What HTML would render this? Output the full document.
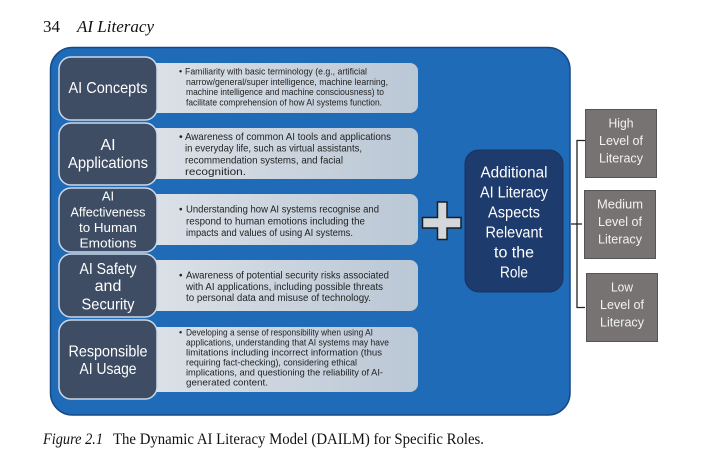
<!DOCTYPE html>
<html><head><meta charset="utf-8"><style>
html,body{margin:0;padding:0;background:#fff;}
svg{display:block;}
</style></head><body>
<svg width="720" height="462" viewBox="0 0 720 462" xmlns="http://www.w3.org/2000/svg">
<defs>
<linearGradient id="lg" x1="0" y1="0" x2="1" y2="0">
<stop offset="0" stop-color="#dde2e8"/>
<stop offset="1" stop-color="#bac7d5"/>
</linearGradient>
</defs>
<!-- header -->
<text x="43" y="32" font-family="Liberation Serif, serif" font-size="17" fill="#111">34</text>
<text x="77" y="32" font-family="Liberation Serif, serif" font-size="17" font-style="italic" fill="#111" textLength="77" lengthAdjust="spacingAndGlyphs">AI Literacy</text>

<!-- outer box -->
<rect x="50.5" y="47.5" width="519.5" height="367.5" rx="22" fill="#1f6bb8" stroke="#164a85" stroke-width="1.5"/>

<!-- light boxes -->
<g fill="url(#lg)">
<rect x="140" y="63" width="278" height="50" rx="8"/>
<rect x="140" y="128" width="278" height="51" rx="8"/>
<rect x="140" y="194" width="278" height="51" rx="8"/>
<rect x="140" y="260" width="278" height="51" rx="8"/>
<rect x="140" y="327" width="278" height="65" rx="8"/>
</g>

<!-- dark boxes -->
<g fill="#3e4d64" stroke="#cbd8e8" stroke-width="1.5">
<rect x="59" y="57" width="98" height="63" rx="12"/>
<rect x="59" y="123" width="98" height="62" rx="12"/>
<rect x="59" y="188" width="98" height="64" rx="12"/>
<rect x="59" y="254" width="98" height="63" rx="12"/>
<rect x="59" y="320" width="98" height="79" rx="12"/>
</g>

<g font-family="Liberation Sans, sans-serif" fill="#fff" text-anchor="middle">
<text x="108" y="93" font-size="16" textLength="79" lengthAdjust="spacingAndGlyphs">AI Concepts</text>
<text x="108" y="150" font-size="16">AI</text>
<text x="108" y="168" font-size="16" textLength="80" lengthAdjust="spacingAndGlyphs">Applications</text>
<text x="108" y="200.5" font-size="13">AI</text>
<text x="108" y="216.5" font-size="13" textLength="75" lengthAdjust="spacingAndGlyphs">Affectiveness</text>
<text x="108" y="232" font-size="13" textLength="58" lengthAdjust="spacingAndGlyphs">to Human</text>
<text x="108" y="247.3" font-size="13" textLength="57" lengthAdjust="spacingAndGlyphs">Emotions</text>
<text x="108" y="274" font-size="16" textLength="57" lengthAdjust="spacingAndGlyphs">AI Safety</text>
<text x="108" y="291" font-size="16">and</text>
<text x="108" y="309.3" font-size="16" textLength="53" lengthAdjust="spacingAndGlyphs">Security</text>
<text x="108" y="356.7" font-size="16" textLength="79" lengthAdjust="spacingAndGlyphs">Responsible</text>
<text x="108" y="374" font-size="16" textLength="57" lengthAdjust="spacingAndGlyphs">AI Usage</text>
</g>

<!-- description text -->
<g font-family="Liberation Sans, sans-serif" fill="#222" lengthAdjust="spacingAndGlyphs">
<g font-size="9">
<text x="179" y="74.5">•</text>
<text x="185" y="74.5" textLength="182" lengthAdjust="spacingAndGlyphs">Familiarity with basic terminology (e.g., artificial</text>
<text x="186" y="84.8" textLength="202" lengthAdjust="spacingAndGlyphs">narrow/general/super intelligence, machine learning,</text>
<text x="186" y="95.1" textLength="198" lengthAdjust="spacingAndGlyphs">machine intelligence and machine consciousness) to</text>
<text x="186" y="105.4" textLength="196" lengthAdjust="spacingAndGlyphs">facilitate comprehension of how AI systems function.</text>
</g>
<g font-size="10.5">
<text x="179" y="140">•</text>
<text x="185" y="140" textLength="206" lengthAdjust="spacingAndGlyphs">Awareness of common AI tools and applications</text>
<text x="185" y="151.7" textLength="177" lengthAdjust="spacingAndGlyphs">in everyday life, such as virtual assistants,</text>
<text x="185" y="163.4" textLength="158" lengthAdjust="spacingAndGlyphs">recommendation systems, and facial</text>
<text x="185" y="175" textLength="61" lengthAdjust="spacingAndGlyphs">recognition.</text>
</g>
<g font-size="10">
<text x="179" y="212.5">•</text>
<text x="186" y="212.5" textLength="193" lengthAdjust="spacingAndGlyphs">Understanding how AI systems recognise and</text>
<text x="186" y="224.3" textLength="179" lengthAdjust="spacingAndGlyphs">respond to human emotions including the</text>
<text x="186" y="236" textLength="167" lengthAdjust="spacingAndGlyphs">impacts and values of using AI systems.</text>
<text x="179" y="278.5">•</text>
<text x="186" y="278.5" textLength="203" lengthAdjust="spacingAndGlyphs">Awareness of potential security risks associated</text>
<text x="186" y="289.8" textLength="197" lengthAdjust="spacingAndGlyphs">with AI applications, including possible threats</text>
<text x="186" y="301" textLength="185" lengthAdjust="spacingAndGlyphs">to personal data and misuse of technology.</text>
</g>
<g font-size="9">
<text x="179" y="335.5">•</text>
<text x="186" y="335.5" textLength="187" lengthAdjust="spacingAndGlyphs">Developing a sense of responsibility when using AI</text>
<text x="186" y="345.5" textLength="203" lengthAdjust="spacingAndGlyphs">applications, understanding that AI systems may have</text>
<text x="186" y="355.5" textLength="196" lengthAdjust="spacingAndGlyphs">limitations including incorrect information (thus</text>
<text x="186" y="365.5" textLength="171" lengthAdjust="spacingAndGlyphs">requiring fact-checking), considering ethical</text>
<text x="186" y="375.5" textLength="197" lengthAdjust="spacingAndGlyphs">implications, and questioning the reliability of AI-</text>
<text x="186" y="385.5" textLength="82" lengthAdjust="spacingAndGlyphs">generated content.</text>
</g>
</g>

<!-- plus sign -->
<path d="M437.5 202 H447 V217.5 H461 V228 H447 V239.5 H437.5 V228 H422.5 V217.5 H437.5 Z" fill="#d3d7dc" stroke="#1e1e1e" stroke-width="1.5" stroke-linejoin="miter"/>

<!-- additional box -->
<rect x="465" y="150" width="98" height="142" rx="14" fill="#1e3b6d" stroke="#1a3360" stroke-width="1"/>
<g font-family="Liberation Sans, sans-serif" fill="#fff" text-anchor="middle" font-size="15.5">
<text x="514" y="177.3" textLength="67" lengthAdjust="spacingAndGlyphs">Additional</text>
<text x="514" y="197.3" textLength="68" lengthAdjust="spacingAndGlyphs">AI Literacy</text>
<text x="514" y="217.3" textLength="52" lengthAdjust="spacingAndGlyphs">Aspects</text>
<text x="514" y="237.3" textLength="57" lengthAdjust="spacingAndGlyphs">Relevant</text>
<text x="514" y="257.3" textLength="40" lengthAdjust="spacingAndGlyphs">to the</text>
<text x="514" y="277.3" textLength="28" lengthAdjust="spacingAndGlyphs">Role</text>
</g>

<!-- bracket -->
<g stroke="#222" stroke-width="1.3" fill="none">
<path d="M585 140.5 H577 V307.5 H585"/>
<path d="M571 224 H582"/>
</g>

<!-- gray boxes -->
<g fill="#777373" stroke="#555" stroke-width="1">
<rect x="585.5" y="109.5" width="71" height="68"/>
<rect x="584.5" y="190.5" width="71" height="68"/>
<rect x="586.5" y="273.5" width="71" height="68"/>
</g>
<g font-family="Liberation Sans, sans-serif" fill="#f2f2f2" text-anchor="middle" font-size="12.5">
<text x="621" y="127.7" textLength="25" lengthAdjust="spacingAndGlyphs">High</text>
<text x="621" y="145" textLength="44" lengthAdjust="spacingAndGlyphs">Level of</text>
<text x="621" y="162.3" textLength="44" lengthAdjust="spacingAndGlyphs">Literacy</text>
<text x="620" y="208.5" textLength="46" lengthAdjust="spacingAndGlyphs">Medium</text>
<text x="620" y="226" textLength="44" lengthAdjust="spacingAndGlyphs">Level of</text>
<text x="620" y="243.3" textLength="44" lengthAdjust="spacingAndGlyphs">Literacy</text>
<text x="622" y="291.7" textLength="22" lengthAdjust="spacingAndGlyphs">Low</text>
<text x="622" y="309" textLength="44" lengthAdjust="spacingAndGlyphs">Level of</text>
<text x="622" y="326.3" textLength="44" lengthAdjust="spacingAndGlyphs">Literacy</text>
</g>

<!-- caption -->
<text x="43" y="444" font-family="Liberation Serif, serif" font-size="16" font-style="italic" fill="#111" textLength="60" lengthAdjust="spacingAndGlyphs">Figure 2.1</text>
<text x="113" y="444" font-family="Liberation Serif, serif" font-size="16" fill="#111" textLength="371" lengthAdjust="spacingAndGlyphs">The Dynamic AI Literacy Model (DAILM) for Specific Roles.</text>
</svg>
</body></html>
